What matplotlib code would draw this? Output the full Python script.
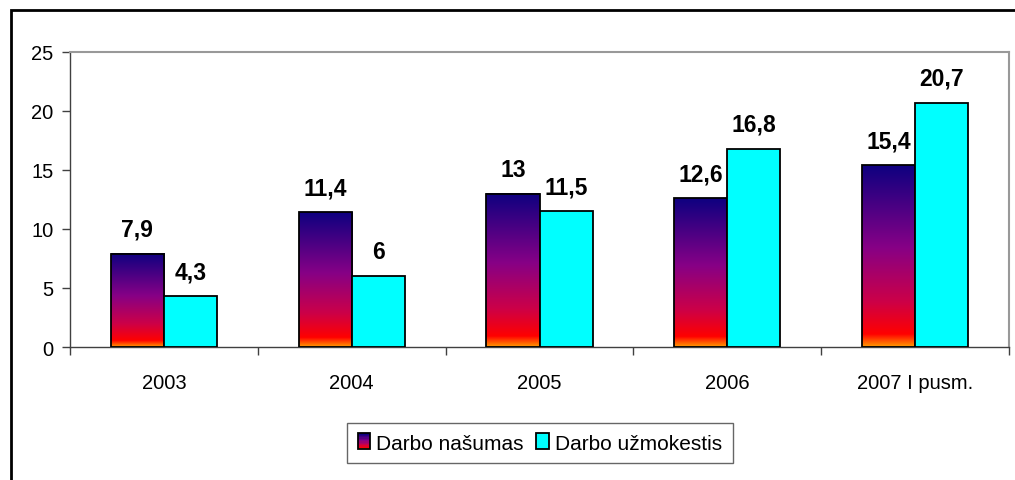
import numpy as np
import matplotlib
matplotlib.use("Agg")
import matplotlib.pyplot as plt
from matplotlib.colors import LinearSegmentedColormap
from matplotlib.patches import Rectangle
from matplotlib.legend_handler import HandlerBase

categories = ["2003", "2004", "2005", "2006", "2007 I pusm."]
nasumas = [7.9, 11.4, 13, 12.6, 15.4]
uzmokestis = [4.3, 6, 11.5, 16.8, 20.7]
labels_nasumas = ["7,9", "11,4", "13", "12,6", "15,4"]
labels_uzmok = ["4,3", "6", "11,5", "16,8", "20,7"]
series_names = ["Darbo našumas", "Darbo užmokestis"]

plt.rcParams['font.family'] = ['Liberation Sans', 'DejaVu Sans']

W, H = 1015, 481
fig = plt.figure(figsize=(W / 100, H / 100), dpi=100)
ax = fig.add_axes([70 / W, 1 - 348 / H, (1009 - 70) / W, (348 - 53) / H])

grad = LinearSegmentedColormap.from_list("g", [
    (0.0, "#ff9a00"), (0.07, "#ff0000"), (0.25, "#cc0048"),
    (0.55, "#860086"), (1.0, "#0e0080")])
gimg = np.linspace(0, 1, 256).reshape(-1, 1)

n = len(categories)
x = np.arange(n)
bw = 0.283

ax.set_xlim(-0.5, n - 0.5)
ax.set_ylim(0, 25)

for i in range(n):
    x0 = x[i] - bw
    v = nasumas[i]
    ax.imshow(gimg, cmap=grad, origin="lower", aspect="auto",
              extent=[x0, x0 + bw, 0, v], zorder=2, interpolation="bilinear")
    ax.add_patch(Rectangle((x0, 0), bw, v, fill=False, ec="black", lw=1.3, zorder=3))
    ax.bar(x[i], uzmokestis[i], width=bw, align="edge", color="#00ffff",
           edgecolor="black", linewidth=1.3, zorder=3)
    ax.annotate(labels_nasumas[i], (x0 + bw / 2, v), xytext=(0, 13),
                textcoords="offset points", ha="center", va="baseline",
                fontsize=16.5, fontweight="bold")
    ax.annotate(labels_uzmok[i], (x[i] + bw / 2, uzmokestis[i]), xytext=(0, 13),
                textcoords="offset points", ha="center", va="baseline",
                fontsize=16.5, fontweight="bold")

ax.set_xlim(-0.5, n - 0.5)
ax.set_ylim(0, 25)
ax.set_yticks([0, 5, 10, 15, 20, 25])
ax.set_xticks(x)
ax.set_xticklabels(categories)
ax.set_xticks(np.arange(n + 1) - 0.5, minor=True)
ax.tick_params(axis="x", which="major", length=0, pad=19, labelsize=14.5)
ax.tick_params(axis="x", which="minor", length=6, width=1, color="#404040", direction="out")
ax.tick_params(axis="y", length=6, width=1, color="#404040", direction="out",
               labelsize=14.5, pad=6)
for s in ["left", "bottom"]:
    ax.spines[s].set_color("#404040")
    ax.spines[s].set_linewidth(1)
for s in ["top", "right"]:
    ax.spines[s].set_color("#999999")
    ax.spines[s].set_linewidth(1.5)


class GradHandler(HandlerBase):
    def create_artists(self, legend, orig_handle, xdescent, ydescent, width,
                       height, fontsize, trans):
        arts = []
        nseg = 12
        for k in range(nseg):
            y0 = -ydescent + height * k / nseg
            r = Rectangle((-xdescent, y0), width, height / nseg + 0.2,
                          facecolor=grad(k / (nseg - 1)), edgecolor="none",
                          transform=trans)
            arts.append(r)
        arts.append(Rectangle((-xdescent, -ydescent), width, height, fill=False,
                              ec="black", lw=1.3, transform=trans))
        return arts


h1 = Rectangle((0, 0), 1, 1)
h2 = Rectangle((0, 0), 1, 1, facecolor="#00ffff", edgecolor="black", lw=1.3)
leg = fig.legend([h1, h2], series_names, handler_map={h1: GradHandler()},
                 loc="center", bbox_to_anchor=(540 / W, 1 - 444 / H), ncol=2,
                 fontsize=15, frameon=True, fancybox=False, edgecolor="#404040",
                 handlelength=0.6, handleheight=0.8, handletextpad=0.3,
                 columnspacing=0.6, borderpad=0.5)
leg.get_frame().set_linewidth(1)

fig.add_artist(Rectangle((11 / W, -0.1), 1.2, 1 - 11 / H + 0.1, fill=False,
                         ec="black", lw=2, transform=fig.transFigure))

fig.savefig("out.png", dpi=100)
